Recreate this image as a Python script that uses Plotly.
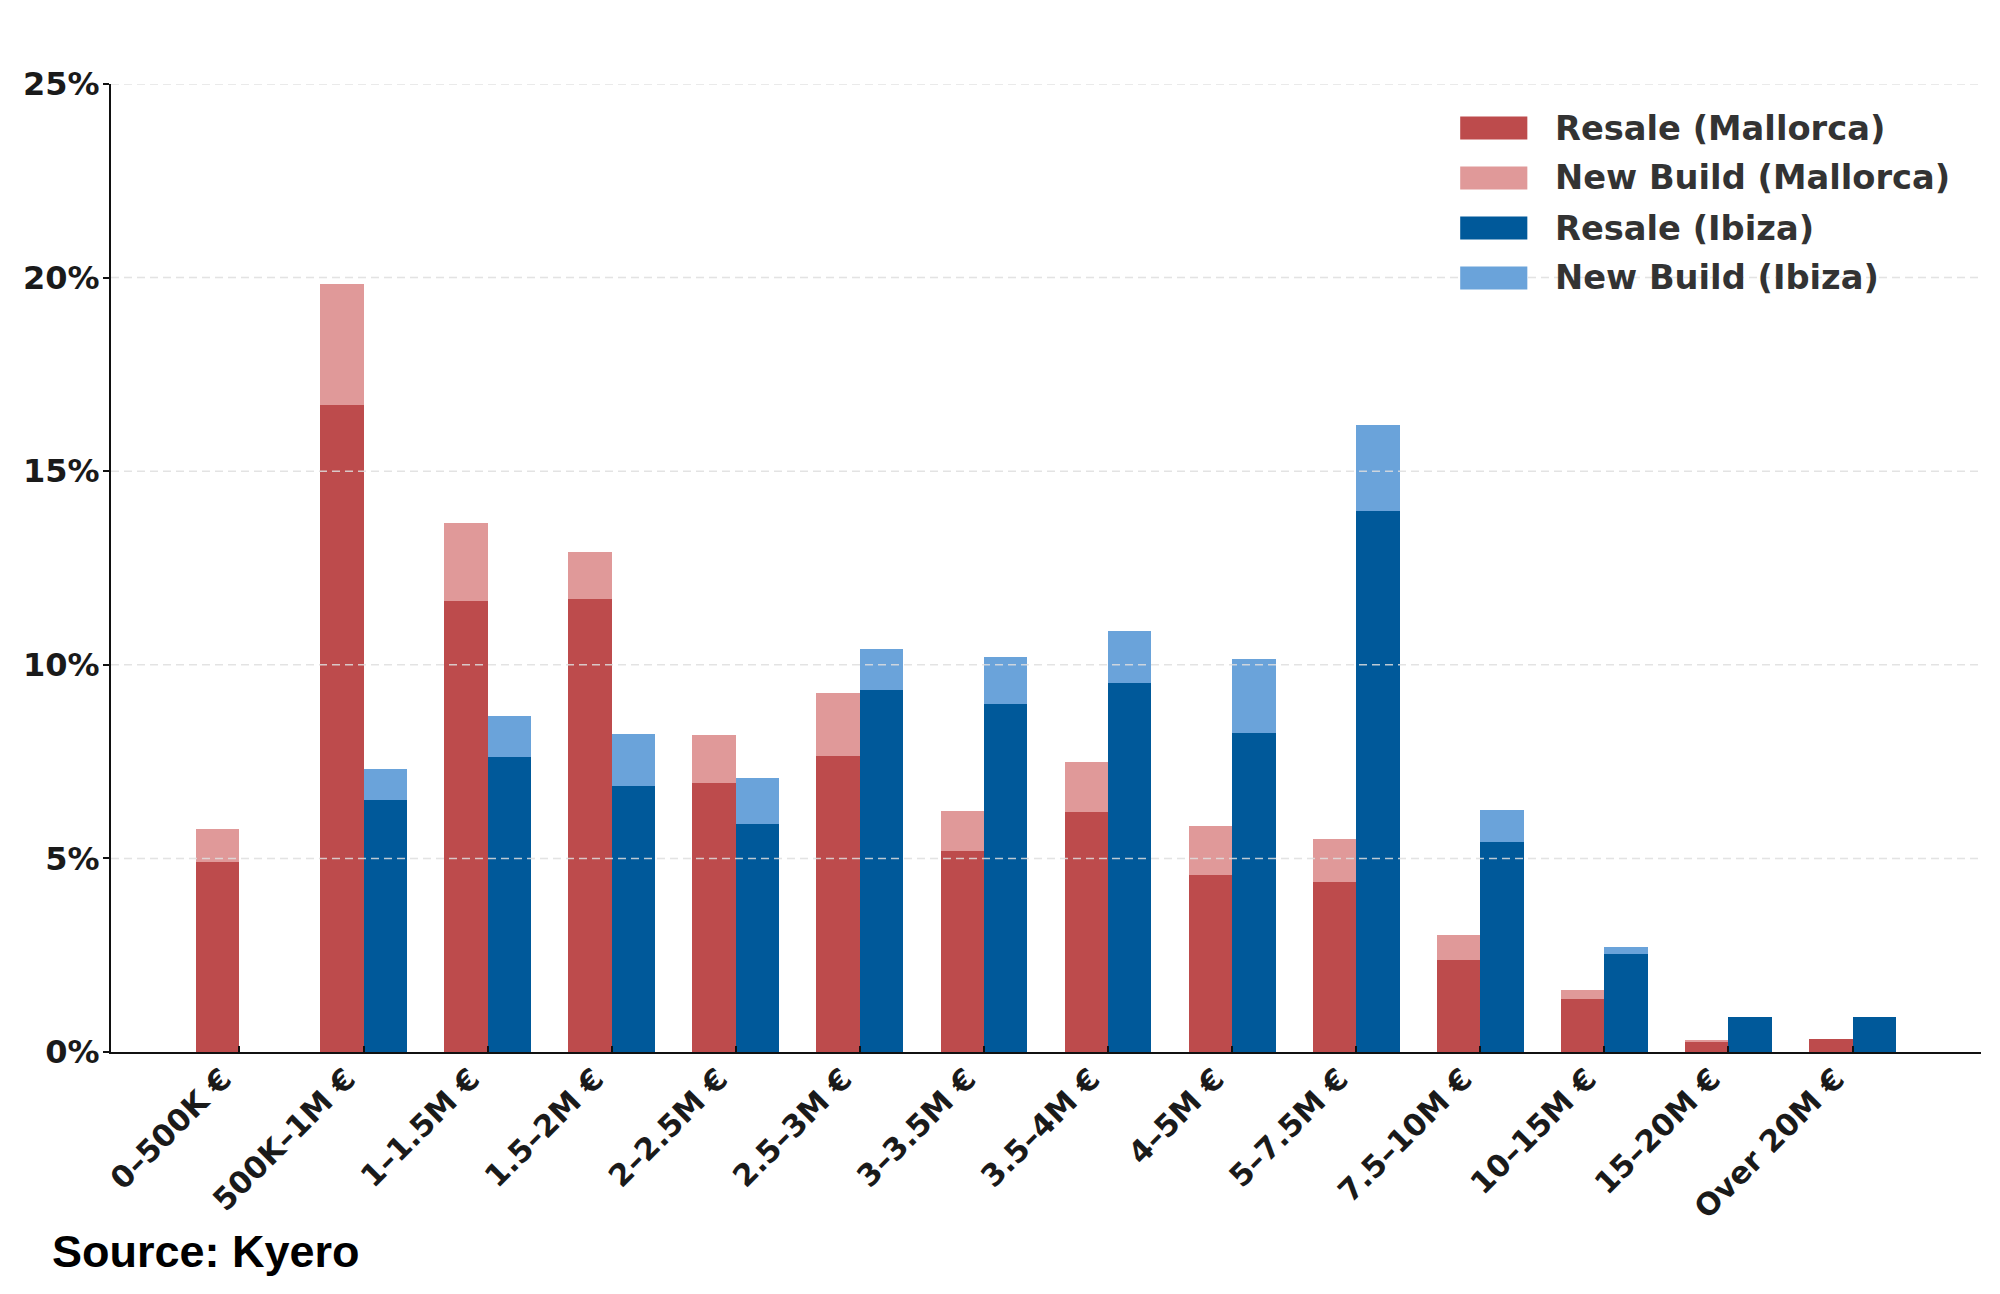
import plotly.graph_objects as go

categories = ["0–500K €", "500K–1M €", "1–1.5M €", "1.5–2M €", "2–2.5M €", "2.5–3M €",
              "3–3.5M €", "3.5–4M €", "4–5M €", "5–7.5M €", "7.5–10M €", "10–15M €",
              "15–20M €", "Over 20M €"]
resale_mallorca = [4.9, 16.7, 11.65, 11.7, 6.95, 7.65, 5.2, 6.2, 4.58, 4.38, 2.38, 1.38, 0.26, 0.33]
newbuild_mallorca = [0.85, 3.13, 2.02, 1.21, 1.25, 1.61, 1.03, 1.28, 1.25, 1.12, 0.64, 0.22, 0.06, 0.0]
resale_ibiza = [0.0, 6.51, 7.62, 6.87, 5.9, 9.35, 8.99, 9.52, 8.23, 13.96, 5.42, 2.52, 0.9, 0.9]
newbuild_ibiza = [0.0, 0.81, 1.06, 1.35, 1.18, 1.06, 1.22, 1.35, 1.91, 2.24, 0.83, 0.19, 0.0, 0.0]
y_ticks = [0, 5, 10, 15, 20, 25]
y_ticklabels = ["0%", "5%", "10%", "15%", "20%", "25%"]

C_RES_M = "#BD4B4C"
C_NEW_M = "#E09999"
C_RES_I = "#00599A"
C_NEW_I = "#6AA3DA"

idx = list(range(len(categories)))
W = 0.35

fig = go.Figure()
fig.add_trace(go.Bar(x=idx, y=resale_mallorca, width=W, offset=-W, marker_color=C_RES_M,
                     marker_line_width=0, name="Resale (Mallorca)"))
fig.add_trace(go.Bar(x=idx, y=newbuild_mallorca, base=resale_mallorca, width=W, offset=-W,
                     marker_color=C_NEW_M, marker_line_width=0, name="New Build (Mallorca)"))
fig.add_trace(go.Bar(x=idx, y=resale_ibiza, width=W, offset=0, marker_color=C_RES_I,
                     marker_line_width=0, name="Resale (Ibiza)"))
fig.add_trace(go.Bar(x=idx, y=newbuild_ibiza, base=resale_ibiza, width=W, offset=0,
                     marker_color=C_NEW_I, marker_line_width=0, name="New Build (Ibiza)"))

# dashed grid drawn above the bars
for v in y_ticks[1:]:
    fig.add_shape(type="line", xref="paper", yref="y", x0=0, x1=1, y0=v, y1=v,
                  line=dict(color="rgba(222,222,222,0.85)", width=1.5, dash="8px,5px"),
                  layer="above")

# custom legend
legend_items = [("Resale (Mallorca)", C_RES_M), ("New Build (Mallorca)", C_NEW_M),
                ("Resale (Ibiza)", C_RES_I), ("New Build (Ibiza)", C_NEW_I)]
row_y = [0.9545, 0.9029, 0.8512, 0.7996]
for (label, col), yy in zip(legend_items, row_y):
    fig.add_shape(type="rect", xref="paper", yref="paper", x0=0.7215, x1=0.7574,
                  y0=yy - 0.0119, y1=yy + 0.0119, fillcolor=col, line_width=0, layer="above")
    fig.add_annotation(x=0.7713, y=yy, xref="paper", yref="paper", text=label,
                       showarrow=False, xanchor="left", yanchor="middle",
                       font=dict(family="DejaVu Sans", size=33.7, color="#333333", weight="bold"))

fig.add_annotation(x=-0.0325, y=-0.2056, xref="paper", yref="paper", text="<b>Source: Kyero</b>",
                   showarrow=False, xanchor="left", yanchor="middle",
                   font=dict(family="Liberation Sans, Arial", size=45, color="#000000"))

fig.update_layout(
    width=2000, height=1294,
    margin=dict(l=111, r=19, t=84, b=242),
    paper_bgcolor="white", plot_bgcolor="white",
    barmode="overlay", bargap=0, showlegend=False,
)
fig.update_xaxes(
    range=[-1.035, 14.035], tickvals=idx, ticktext=categories, tickangle=-45,
    showgrid=False, zeroline=False, showline=True, linecolor="#111111", linewidth=2,
    ticks="inside", ticklen=6, tickwidth=2, tickcolor="#111111", layer="above traces",
    ticklabelshift=-17, ticklabelstandoff=-5,
    tickfont=dict(family="DejaVu Sans", size=30.5, color="#1a1a1a", weight="bold"),
)
fig.update_yaxes(
    range=[0, 25], tickvals=y_ticks, ticktext=y_ticklabels,
    showgrid=False, zeroline=False, showline=True, linecolor="#111111", linewidth=2,
    ticks="outside", ticklen=6, tickwidth=2, tickcolor="#111111", ticklabelstandoff=-3,
    tickfont=dict(family="DejaVu Sans", size=32, color="#1a1a1a", weight="bold"),
)

fig.write_html("out.html")
